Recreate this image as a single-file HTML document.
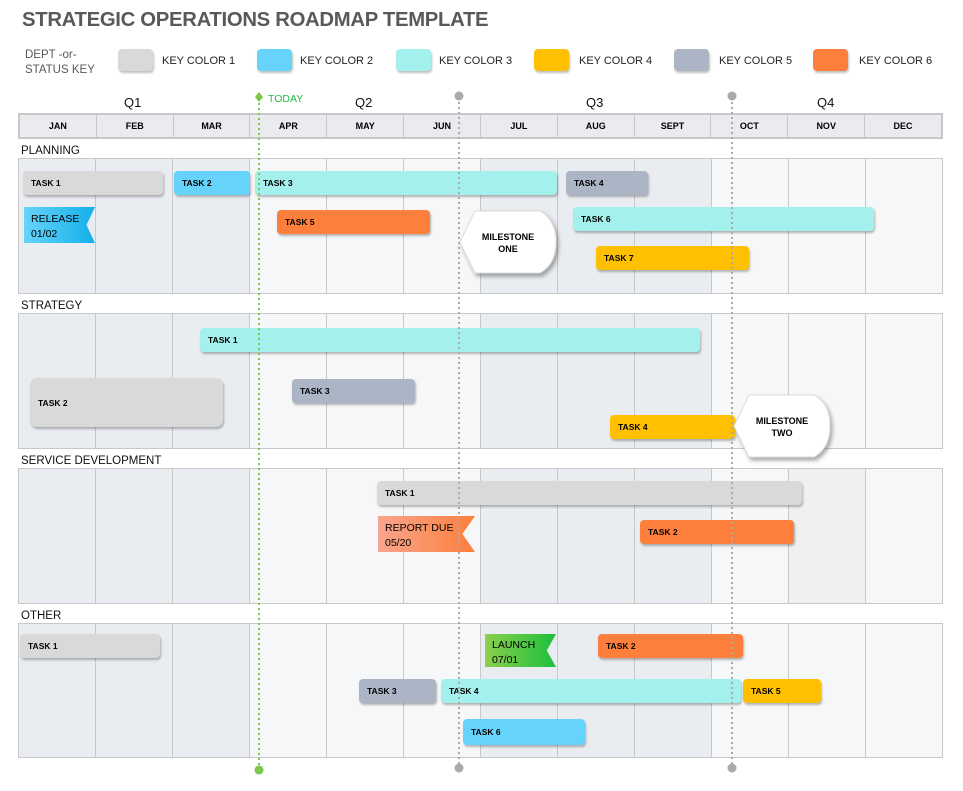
<!DOCTYPE html>
<html><head><meta charset="utf-8"><style>
*{margin:0;padding:0;box-sizing:border-box}
body{width:963px;height:791px;background:#fff;position:relative;overflow:hidden;font-family:"Liberation Sans",sans-serif;color:#000}
.a{position:absolute}
.t{position:absolute;font-weight:bold;font-size:8.5px;display:flex;align-items:center;padding-left:8px;border-radius:4px;box-shadow:1px 2px 2px rgba(0,0,0,.28)}
.g{background:#d9d9d9}.b{background:#66d3fa}.c{background:#a3f0ed}.s{background:#abb5c6}.o{background:#fd7f3b}.y{background:#fec000}
.sw{position:absolute;top:49px;width:35px;height:22px;border-radius:4px;box-shadow:1px 2px 2px rgba(0,0,0,.25)}
.kl{position:absolute;top:55px;font-size:11px;color:#222}
.sec{position:absolute;left:18px;width:925px;border:1px solid #c8c8c8;display:flex}
.sec div{flex:1;border-right:1px solid #c8c8c8}
.sec div:last-child{border-right:none}
.d{background:#e9ecf0}.l{background:#f6f7f9}
.sl{position:absolute;left:21px;font-size:11.5px;color:#111}
.hd{position:absolute;left:18px;top:113px;width:925px;height:26px;border:2px solid #c8c8c8;display:flex;background:#e9ebef}
.hd div{flex:1;border-right:1px solid #c8c8c8;font-size:9px;font-weight:bold;display:flex;align-items:center;justify-content:center}
.hd div:last-child{border-right:none}
.q{position:absolute;top:95px;font-size:13px;color:#111}
.fl{position:absolute;font-size:10.5px;padding:5px 0 0 7px;line-height:15px}
</style></head><body>
<div class="a" style="left:22px;top:9px;font-size:20.3px;font-weight:bold;color:#595959;letter-spacing:-0.3px">STRATEGIC OPERATIONS ROADMAP TEMPLATE</div>
<div class="a" style="left:25px;top:48px;font-size:11.5px;color:#595959;line-height:15px">DEPT -or-<br>STATUS KEY</div>
<div class="sw g" style="left:118px"></div><div class="kl" style="left:162px">KEY COLOR 1</div>
<div class="sw b" style="left:257px"></div><div class="kl" style="left:300px">KEY COLOR 2</div>
<div class="sw c" style="left:396px"></div><div class="kl" style="left:439px">KEY COLOR 3</div>
<div class="sw y" style="left:534px"></div><div class="kl" style="left:579px">KEY COLOR 4</div>
<div class="sw s" style="left:674px"></div><div class="kl" style="left:719px">KEY COLOR 5</div>
<div class="sw o" style="left:813px"></div><div class="kl" style="left:859px">KEY COLOR 6</div>

<div class="q" style="left:124px">Q1</div><div class="q" style="left:355px">Q2</div><div class="q" style="left:586px">Q3</div><div class="q" style="left:817px">Q4</div>
<div class="a" style="left:268px;top:93px;font-size:10.5px;color:#22bb44">TODAY</div>
<div class="hd"><div>JAN</div><div>FEB</div><div>MAR</div><div>APR</div><div>MAY</div><div>JUN</div><div>JUL</div><div>AUG</div><div>SEPT</div><div>OCT</div><div>NOV</div><div>DEC</div></div>

<div class="sl" style="top:145px">PLANNING</div>
<div class="sl" style="top:300px">STRATEGY</div>
<div class="sl" style="top:455px">SERVICE DEVELOPMENT</div>
<div class="sl" style="top:610px">OTHER</div>
<div class="sec" style="top:158px;height:136px"><div class="d"></div><div class="d"></div><div class="d"></div><div class="l"></div><div class="l"></div><div class="l"></div><div class="d"></div><div class="d"></div><div class="d"></div><div class="l"></div><div class="l"></div><div class="l"></div></div>
<div class="sec" style="top:313px;height:136px"><div class="d"></div><div class="d"></div><div class="d"></div><div class="l"></div><div class="l"></div><div class="l"></div><div class="d"></div><div class="d"></div><div class="d"></div><div class="l"></div><div class="l"></div><div class="l"></div></div>
<div class="sec" style="top:468px;height:136px"><div class="d"></div><div class="d"></div><div class="d"></div><div class="l"></div><div class="l"></div><div class="l"></div><div class="d"></div><div class="d"></div><div class="d"></div><div class="l"></div><div class="d" style="background:#f0f0f0"></div><div class="l"></div></div>
<div class="sec" style="top:623px;height:135px"><div class="d"></div><div class="d"></div><div class="d"></div><div class="l"></div><div class="l"></div><div class="l"></div><div class="d"></div><div class="d"></div><div class="d"></div><div class="l"></div><div class="l"></div><div class="l"></div></div>

<!-- planning -->
<div class="t g" style="left:23px;top:171px;width:140px;height:24px">TASK 1</div>
<div class="t b" style="left:174px;top:171px;width:76px;height:24px">TASK 2</div>
<div class="t c" style="left:255px;top:171px;width:302px;height:24px">TASK 3</div>
<div class="t s" style="left:566px;top:171px;width:82px;height:24px">TASK 4</div>
<div class="fl" style="left:24px;top:207px;width:71px;height:36px;background:linear-gradient(90deg,#66d3fa,#13b0ea);clip-path:polygon(0 0,100% 0,88% 50%,100% 100%,0 100%)">RELEASE<br>01/02</div>
<div class="t o" style="left:277px;top:210px;width:153px;height:24px">TASK 5</div>
<div class="t c" style="left:573px;top:207px;width:301px;height:24px">TASK 6</div>
<div class="t y" style="left:596px;top:246px;width:153px;height:24px">TASK 7</div>
<!-- strategy -->
<div class="t c" style="left:200px;top:328px;width:500px;height:24px">TASK 1</div>
<div class="t g" style="left:30px;top:378px;width:193px;height:49px;border-radius:7px">TASK 2</div>
<div class="t s" style="left:292px;top:379px;width:123px;height:24px">TASK 3</div>
<div class="t y" style="left:610px;top:415px;width:125px;height:24px">TASK 4</div>
<!-- service -->
<div class="t g" style="left:377px;top:481px;width:425px;height:24px">TASK 1</div>
<div class="fl" style="left:378px;top:516px;width:97px;height:36px;background:linear-gradient(90deg,#f9a58e,#fd7f3b);clip-path:polygon(0 0,100% 0,87% 50%,100% 100%,0 100%)">REPORT DUE<br>05/20</div>
<div class="t o" style="left:640px;top:520px;width:154px;height:24px">TASK 2</div>
<!-- other -->
<div class="t g" style="left:20px;top:634px;width:140px;height:24px">TASK 1</div>
<div class="fl" style="left:485px;top:634px;width:71px;height:33px;padding-top:4px;background:linear-gradient(90deg,#8ccf4d,#1cbf3c);clip-path:polygon(0 0,100% 0,87% 50%,100% 100%,0 100%)">LAUNCH<br>07/01</div>
<div class="t o" style="left:598px;top:634px;width:145px;height:24px">TASK 2</div>
<div class="t s" style="left:359px;top:679px;width:77px;height:24px">TASK 3</div>
<div class="t c" style="left:441px;top:679px;width:300px;height:24px">TASK 4</div>
<div class="t y" style="left:743px;top:679px;width:78px;height:24px">TASK 5</div>
<div class="t b" style="left:463px;top:719px;width:122px;height:26px">TASK 6</div>

<svg class="a" style="left:0;top:0" width="963" height="791">
<defs><filter id="sh" x="-20%" y="-20%" width="150%" height="150%"><feDropShadow dx="2" dy="3" stdDeviation="2" flood-opacity="0.35"/></filter></defs>
<line x1="259" y1="98" x2="259" y2="770" stroke="#7dc84a" stroke-width="2" stroke-dasharray="2,3"/>
<path d="M259 92 L263 97 L259 102 L255 97Z" fill="#7dc84a"/>
<circle cx="259" cy="770" r="4.5" fill="#7dc84a"/>
<line x1="459" y1="97" x2="459" y2="768" stroke="#aaa" stroke-width="2" stroke-dasharray="2,3"/>
<circle cx="459" cy="96" r="4.5" fill="#aaa"/><circle cx="459" cy="768" r="4.5" fill="#aaa"/>
<line x1="732" y1="97" x2="732" y2="768" stroke="#aaa" stroke-width="2" stroke-dasharray="2,3"/>
<circle cx="732" cy="96" r="4.5" fill="#aaa"/><circle cx="732" cy="768" r="4.5" fill="#aaa"/>
<path d="M460 242 L475 211 L540 211 Q556 220 556 242 Q556 264 540 273 L475 273Z" fill="#fff" stroke="#ddd" filter="url(#sh)"/>
<text x="508" y="240" font-family="Liberation Sans" font-weight="bold" font-size="9" text-anchor="middle">MILESTONE</text>
<text x="508" y="252" font-family="Liberation Sans" font-weight="bold" font-size="9" text-anchor="middle">ONE</text>
<path d="M734 426 L749 395 L814 395 Q830 404 830 426 Q830 448 814 457 L749 457Z" fill="#fff" stroke="#ddd" filter="url(#sh)"/>
<text x="782" y="424" font-family="Liberation Sans" font-weight="bold" font-size="9" text-anchor="middle">MILESTONE</text>
<text x="782" y="436" font-family="Liberation Sans" font-weight="bold" font-size="9" text-anchor="middle">TWO</text>
</svg>
</body></html>
